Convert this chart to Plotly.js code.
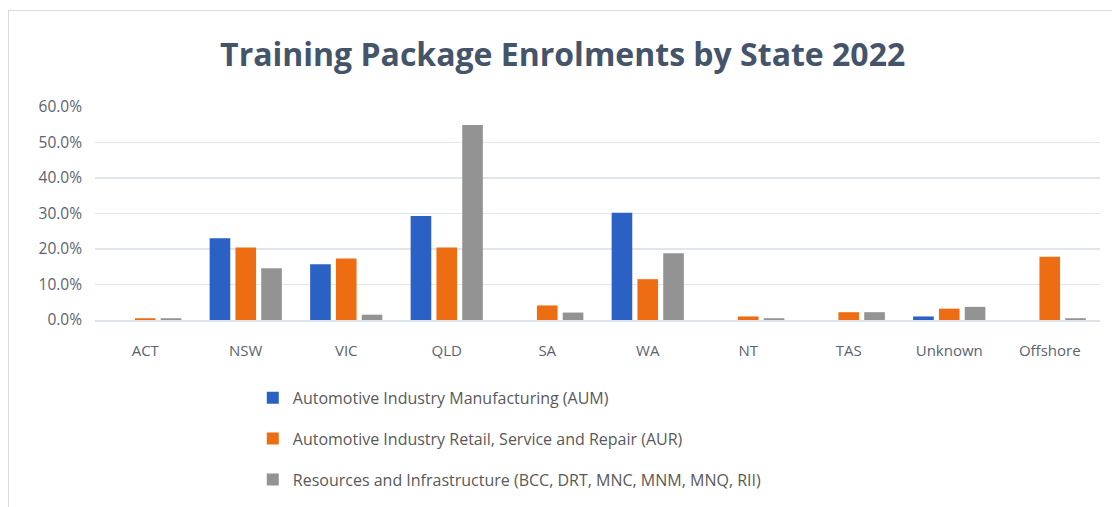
<!DOCTYPE html>
<html>
<head>
<meta charset="utf-8">
<script src="https://cdn.plot.ly/plotly-3.0.1.min.js"></script>
<style>
  html, body { margin: 0; padding: 0; background: #fff; }
  #chart { width: 1112px; height: 507px; }
  #frame { position: absolute; left: 8px; top: 10px; width: 1110px; height: 500px;
           border-left: 1.5px solid #D9D9D9; border-top: 1.5px solid #D9D9D9; pointer-events: none; }
</style>
</head>
<body>
<div id="chart"></div>
<div id="frame"></div>
<script>
const states = ['ACT', 'NSW', 'VIC', 'QLD', 'SA', 'WA', 'NT', 'TAS', 'Unknown', 'Offshore'];
const seriesNames = [
  'Automotive Industry Manufacturing (AUM)',
  'Automotive Industry Retail, Service and Repair (AUR)',
  'Resources and Infrastructure (BCC, DRT, MNC, MNM, MNQ, RII)'
];
const aum = [0.000, 0.230, 0.157, 0.293, 0.000, 0.302, 0.000, 0.000, 0.010, 0.000];
const aur = [0.005, 0.204, 0.173, 0.204, 0.041, 0.115, 0.010, 0.022, 0.032, 0.178];
const rii = [0.005, 0.146, 0.015, 0.549, 0.021, 0.188, 0.005, 0.022, 0.037, 0.005];

const colors = ['#2B60C4', '#EE6D12', '#939393'];
const values = [aum, aur, rii];

const traces = values.map((v, i) => ({
  type: 'bar',
  x: states,
  y: v,
  name: seriesNames[i],
  legendgroup: 'g' + i,
  marker: { color: colors[i], line: { width: 0 } },
  hoverinfo: 'skip'
}));

const layout = {
  width: 1112,
  height: 507,
  paper_bgcolor: '#ffffff',
  plot_bgcolor: '#ffffff',
  margin: { l: 95, r: 12, t: 107, b: 187, autoexpand: false },
  title: {
    text: 'Training Package Enrolments by State 2022',
    font: { family: 'Open Sans, sans-serif', size: 32, color: '#44546A', weight: 'bold' },
    x: 0.506, xanchor: 'center',
    y: 0.892, yanchor: 'middle'
  },
  font: { family: 'Open Sans, sans-serif', color: '#595959' },
  barmode: 'group',
  bargap: 0.23,
  bargroupgap: 0.2,
  xaxis: {
    type: 'category',
    tickfont: { size: 15, color: '#5A6372' },
    tickangle: 0,
    showgrid: false,
    showline: true,
    linecolor: '#DDE2EA',
    linewidth: 1.5,
    ticks: '',
    ticklabelstandoff: 16
  },
  yaxis: {
    range: [0, 0.6],
    dtick: 0.1,
    tickformat: '.1%',
    tickfont: { size: 15.5, color: '#5A6372' },
    gridcolor: '#E1E5EC',
    gridwidth: 1.5,
    zeroline: false,
    showline: false,
    ticks: '',
    ticklabelstandoff: 12
  },
  showlegend: true,
  legend: {
    orientation: 'v',
    x: 0.157, xanchor: 'left',
    y: -0.286, yanchor: 'top',
    traceorder: 'grouped',
    tracegroupgap: 17,
    font: { size: 16, color: '#595959' },
    itemwidth: 30,
    bgcolor: 'rgba(0,0,0,0)'
  }
};

Plotly.newPlot('chart', traces, layout, { displayModeBar: false, staticPlot: true });
</script>
</body>
</html>
